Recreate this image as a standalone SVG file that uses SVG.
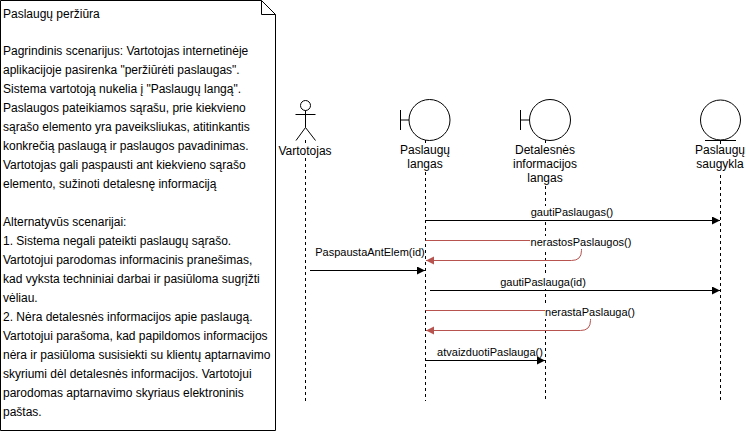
<svg xmlns="http://www.w3.org/2000/svg" width="746" height="431" viewBox="0 0 746 431">
<style>
text{font-family:"Liberation Sans",Arial,sans-serif;font-size:12px;fill:#000}
.m{text-anchor:middle}
.c{font-size:11px}
.s{fill:none;stroke:#000;stroke-width:1}
.w{fill:#fff;stroke:#000;stroke-width:1}
.l{fill:none;stroke:#000;stroke-width:1;stroke-dasharray:3 3}
.b{fill:none;stroke:#000;stroke-width:1;marker-end:url(#ab)}
.r{fill:none;stroke:#b85450;stroke-width:1;marker-end:url(#ar)}
.lab{fill:#fff;stroke:none}
</style>
<defs>
<marker id="ab" markerUnits="userSpaceOnUse" markerWidth="9" markerHeight="9" refX="8" refY="4" orient="auto"><path d="M0 0L8 4L0 8Z" fill="#000"/></marker>
<marker id="ar" markerUnits="userSpaceOnUse" markerWidth="9" markerHeight="9" refX="8" refY="4" orient="auto"><path d="M0 0L8 4L0 8Z" fill="#b85450"/></marker>
</defs>
<rect width="746" height="431" fill="#fff"/>
<g id="note">
<path class="w" d="M0.5 0.5H261.5L275.5 14.500V430.500H0.500Z"/>
<path class="s" d="M261.500 0.500V14.500H275.500"/>
<text x="3" y="18">Paslaugų peržiūra</text>
<text x="3" y="55">Pagrindinis scenarijus: Vartotojas internetinėje</text>
<text x="3" y="74">aplikacijoje pasirenka "peržiūrėti paslaugas".</text>
<text x="3" y="93">Sistema vartotoją nukelia į "Paslaugų langą".</text>
<text x="3" y="112">Paslaugos pateikiamos sąrašu, prie kiekvieno</text>
<text x="3" y="131">sąrašo elemento yra paveiksliukas, atitinkantis</text>
<text x="3" y="150">konkrečią paslaugą ir paslaugos pavadinimas.</text>
<text x="3" y="169">Vartotojas gali paspausti ant kiekvieno sąrašo</text>
<text x="3" y="188">elemento, sužinoti detalesnę informaciją</text>
<text x="3" y="226">Alternatyvūs scenarijai:</text>
<text x="3" y="245">1. Sistema negali pateikti paslaugų sąrašo.</text>
<text x="3" y="264">Vartotojui parodomas informacinis pranešimas,</text>
<text x="3" y="283">kad vyksta techniniai darbai ir pasiūloma sugrįžti</text>
<text x="3" y="302">vėliau.</text>
<text x="3" y="321">2. Nėra detalesnės informacijos apie paslaugą.</text>
<text x="3" y="340">Vartotojui parašoma, kad papildomos informacijos</text>
<text x="3" y="359">nėra ir pasiūloma susisiekti su klientų aptarnavimo</text>
<text x="3" y="378">skyriumi dėl detalesnės informacijos. Vartotojui</text>
<text x="3" y="397">parodomas aptarnavimo skyriaus elektroninis</text>
<text x="3" y="416">paštas.</text>
</g>
<g id="connectors">
<path class="l" d="M305.500 140V144M305.500 158V401"/>
<path class="l" d="M425.500 140V144M425.500 172V401"/>
<path class="l" d="M545.500 140V144M545.500 186V401"/>
<path class="l" d="M720.500 141V144M720.500 175V401"/>
<path class="b" d="M425.500 220.500H720"/>
<path class="b" d="M310 270.500H425"/>
<path class="b" d="M430 290.500H720"/>
<path class="b" d="M425.500 360.500H545"/>
<path class="r" d="M425.500 240.500H581.500V250.500Q581.500 260.500 571.500 260.500H426"/>
<path class="r" d="M425.500 310.500H590.500V320.500Q590.500 330.500 580.500 330.500H426"/>
<rect class="lab" x="531" y="206" width="82" height="13"/>
<rect class="lab" x="500" y="276" width="86" height="13"/>
<rect class="lab" x="530" y="236" width="102" height="13"/>
<rect class="lab" x="545" y="306" width="90" height="13"/>
<text class="m c" x="572" y="216">gautiPaslaugas()</text>
<text class="m c" x="581" y="246">nerastosPaslaugos()</text>
<text class="m c" x="370" y="256">PaspaustaAntElem(id)</text>
<text class="m c" x="543" y="286">gautiPaslauga(id)</text>
<text class="m c" x="590" y="316">nerastaPaslauga()</text>
<text class="m c" x="490" y="356">atvaizduotiPaslauga()</text>
</g>
<g id="actor">
<circle class="s" cx="305.500" cy="105.500" r="5"/>
<path class="s" d="M305.500 110.500V127.500M295.500 114.500H315.500M305.500 127.500L296 140.500M305.500 127.500L315.500 140.500"/>
<text class="m" x="305" y="155">Vartotojas</text>
</g>
<g id="paslaugu-langas">
<circle class="s" cx="429.500" cy="120" r="20.500"/>
<path class="s" d="M400.500 110V130M400.500 120H409"/>
<text class="m" x="425" y="154">Paslaugų</text>
<text class="m" x="425" y="168">langas</text>
</g>
<g id="detalesnes-langas">
<circle class="s" cx="550" cy="120" r="20.500"/>
<path class="s" d="M520.500 110V130M520.500 120H529.500"/>
<text class="m" x="545" y="154">Detalesnės</text>
<text class="m" x="545" y="168">informacijos</text>
<text class="m" x="545" y="182">langas</text>
</g>
<g id="paslaugu-saugykla">
<circle class="s" cx="720.500" cy="120" r="20"/>
<path class="s" d="M705 140.500H736"/>
<text class="m" x="720" y="154">Paslaugų</text>
<text class="m" x="720" y="168">saugykla</text>
</g>
</svg>
